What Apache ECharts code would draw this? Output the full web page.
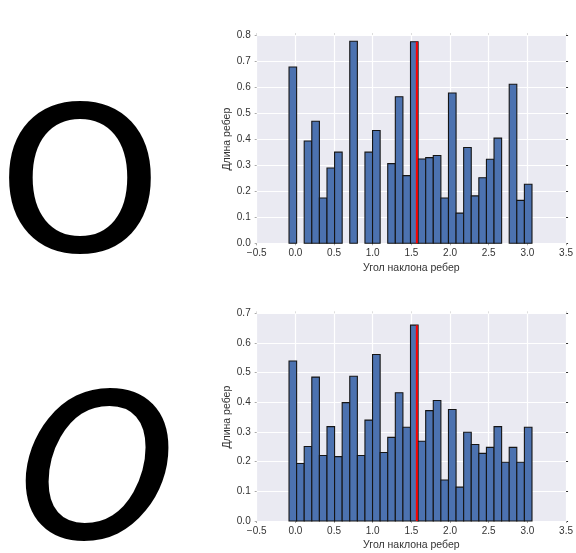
<!DOCTYPE html>
<html>
<head>
<meta charset="utf-8">
<script src="https://cdn.jsdelivr.net/npm/echarts@6/dist/echarts.min.js"></script>
<style>
html,body{margin:0;padding:0;background:#fff;}
#chart{width:576px;height:553px;}
</style>
</head>
<body>
<div id="chart"></div>
<script>
// ---- data ----
const binStart = -0.082;            // left edge of the first bin
const binWidth = Math.PI / 32;      // bin width (32 bins over 0..pi)
const markerAngle = Math.PI / 2;    // red marker position
const topValues = [0.677, 0, 0.393, 0.469, 0.174, 0.289, 0.350, 0, 0.776, 0, 0.350, 0.433, 0, 0.306, 0.563, 0.260,
                   0.774, 0.324, 0.329, 0.337, 0.174, 0.577, 0.116, 0.368, 0.182, 0.252, 0.323, 0.404, 0, 0.611, 0.165, 0.227];
const bottomValues = [0.539, 0.194, 0.251, 0.485, 0.221, 0.318, 0.217, 0.399, 0.488, 0.221, 0.340, 0.561, 0.231, 0.282, 0.432, 0.316,
                      0.660, 0.269, 0.372, 0.406, 0.138, 0.376, 0.114, 0.299, 0.258, 0.228, 0.248, 0.318, 0.198, 0.248, 0.198, 0.316];
const xTicks = {min: -0.5, max: 3.5, interval: 0.5};
const yTopTicks = {min: 0, max: 0.8, interval: 0.1};
const yBottomTicks = {min: 0, max: 0.7, interval: 0.1};
const xLabel = 'Угол наклона ребер';
const yLabel = 'Длина ребер';

// ---- helpers ----
function histData(vals) {
  return vals.map((v, i) => [binStart + i * binWidth, binStart + (i + 1) * binWidth, v]);
}
const markerBin = Math.floor((markerAngle - binStart) / binWidth);

const FONT = '"Liberation Sans", Arial, sans-serif';
const TXT = '#333';
const fmt = v => (v < 0 ? '\u2212' : '') + Math.abs(v).toFixed(1);

function renderBar(params, api) {
  const l = api.value(0), r = api.value(1), v = api.value(2);
  if (!v) return null;
  const p0 = api.coord([l, 0]);
  const p1 = api.coord([r, v]);
  return {
    type: 'rect',
    shape: {x: p0[0], y: p1[1], width: p1[0] - p0[0], height: p0[1] - p1[1]},
    style: {fill: '#4C72B0', stroke: '#151515', lineWidth: 1.1}
  };
}

const grids = [
  {left: 256.7, right: 7, top: 35, height: 208.3, show: true, backgroundColor: '#EAEAF2', borderWidth: 0},
  {left: 256.7, right: 7, top: 313.3, height: 207.7, show: true, backgroundColor: '#EAEAF2', borderWidth: 0}
];

function xAxisFor(gi) {
  return [{
    type: 'value', gridIndex: gi, min: xTicks.min, max: xTicks.max, interval: xTicks.interval,
    name: xLabel, nameLocation: 'middle', nameGap: 19, nameMoveOverlap: false,
    nameTextStyle: {fontFamily: FONT, fontSize: 10.5, color: TXT},
    axisLine: {show: false, onZero: false},
    axisTick: {show: true, length: 2, lineStyle: {color: '#aaa'}},
    axisLabel: {fontFamily: FONT, fontSize: 10, color: TXT, margin: 5, formatter: fmt},
    splitLine: {show: true, lineStyle: {color: '#fff', width: 1.2}}
  }, {
    type: 'value', gridIndex: gi, position: 'top', min: xTicks.min, max: xTicks.max, interval: xTicks.interval,
    axisLine: {show: false, onZero: false}, axisLabel: {show: false}, splitLine: {show: false},
    axisTick: {show: true, length: 2, lineStyle: {color: '#ddd'}}
  }];
}
function yAxisFor(gi, t) {
  return [{
    type: 'value', gridIndex: gi, min: t.min, max: t.max, interval: t.interval,
    name: yLabel, nameLocation: 'middle', nameGap: 24, nameMoveOverlap: false,
    nameTextStyle: {fontFamily: FONT, fontSize: 10.5, color: TXT},
    axisLine: {show: false, onZero: false},
    axisTick: {show: true, length: 2, lineStyle: {color: '#aaa'}},
    axisLabel: {fontFamily: FONT, fontSize: 10, color: TXT, margin: 6, formatter: fmt},
    splitLine: {show: true, lineStyle: {color: '#fff', width: 1.2}}
  }, {
    type: 'value', gridIndex: gi, position: 'right', min: t.min, max: t.max, interval: t.interval,
    axisLine: {show: false, onZero: false}, axisLabel: {show: false}, splitLine: {show: false},
    axisTick: {show: true, length: 2, lineStyle: {color: '#333'}}
  }];
}

const chart = echarts.init(document.getElementById('chart'), null, {renderer: 'canvas'});
chart.setOption({
  animation: false,
  backgroundColor: '#fff',
  grid: grids,
  xAxis: [...xAxisFor(0), ...xAxisFor(1)],
  yAxis: [...yAxisFor(0, yTopTicks), ...yAxisFor(1, yBottomTicks)],
  graphic: [
    {type: 'text', x: 80, y: 198, scaleX: 1.04, style: {text: 'O', fontFamily: '"DejaVu Sans"', fontSize: 199, fill: '#000', stroke: '#000', lineWidth: 2, align: 'center', verticalAlign: 'middle'}},
    {type: 'text', x: 97, y: 485, style: {text: 'O', fontFamily: '"DejaVu Sans"', fontStyle: 'italic', fontSize: 199, fill: '#000', stroke: '#000', lineWidth: 2, align: 'center', verticalAlign: 'middle'}}
  ],
  series: [
    {type: 'custom', xAxisIndex: 0, yAxisIndex: 0, renderItem: renderBar, data: histData(topValues), z: 2},
    {type: 'line', xAxisIndex: 0, yAxisIndex: 0, symbol: 'none', lineStyle: {color: '#ff0000', width: 2}, z: 3,
     data: [[markerAngle, 0], [markerAngle, topValues[markerBin]]]},
    {type: 'custom', xAxisIndex: 2, yAxisIndex: 2, renderItem: renderBar, data: histData(bottomValues), z: 2},
    {type: 'line', xAxisIndex: 2, yAxisIndex: 2, symbol: 'none', lineStyle: {color: '#ff0000', width: 2}, z: 3,
     data: [[markerAngle, 0], [markerAngle, bottomValues[markerBin]]]}
  ]
});
</script>
</body>
</html>
